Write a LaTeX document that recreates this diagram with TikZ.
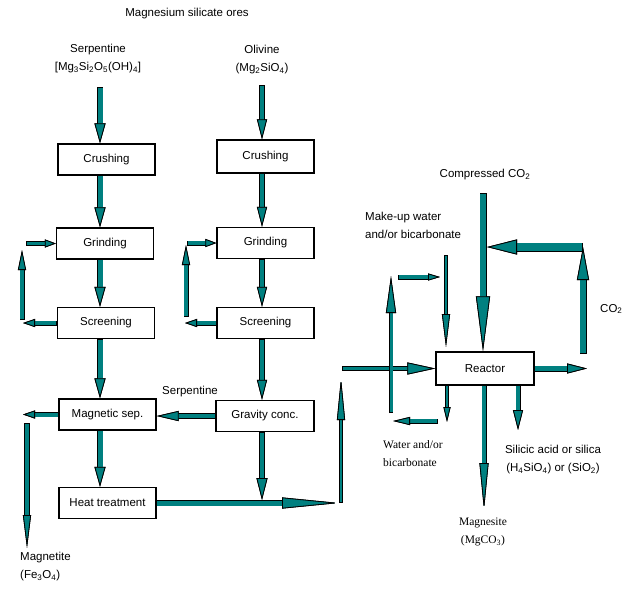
\documentclass[tikz,border=0pt]{standalone}
\usepackage{fontspec}
\setmainfont{Liberation Sans}
\newfontfamily\serifx{Liberation Serif}
\usetikzlibrary{arrows.meta}
\definecolor{tl}{RGB}{0,128,128}
\newcommand\lbl{\fontsize{11.5}{18}\selectfont}
\tikzset{
  box/.style={draw, line width=1.3pt, minimum width=97pt, minimum height=31pt, inner sep=0pt, font=\lbl},
  lab/.style={inner sep=0pt, font=\lbl, align=center},
  fl/.style n args={4}{draw=tl, line width=#1, shorten <=0.8pt,
    -{Triangle[length=#3,width=#4,fill=tl,color=black,line width'=0.8pt]},
    preaction={draw=black, line width=#2, shorten <=0pt}}
}
\begin{document}
\begin{tikzpicture}[x=1pt,y=-1pt]
\useasboundingbox (0,0) rectangle (626,590);
% labels
\node[lab] (title) at (187,14) {Magnesium silicate ores};
\node[lab] (serp) at (98,59) {Serpentine\\{}[Mg\textsubscript{3}Si\textsubscript{2}O\textsubscript{5}(OH)\textsubscript{4}]};
\node[lab] (oliv) at (262,60) {Olivine\\(Mg\textsubscript{2}SiO\textsubscript{4})};
\node[lab] (serp2) at (190,392) {Serpentine};
\node[lab, align=left, anchor=north west] (magn) at (20,552) {Magnetite\\(Fe\textsubscript{3}O\textsubscript{4})};
\node[lab] (comp) at (485,175) {Compressed CO\textsubscript{2}};
\node[lab, anchor=west] (co2) at (600,309) {CO\textsubscript{2}};
\node[lab, align=left, anchor=north west] (mk) at (365,212) {Make-up water\\and/or bicarbonate};
\node[lab, align=left, anchor=north west, font=\lbl\serifx] (wat) at (383,440) {Water and/or\\bicarbonate};
\node[lab] (sil) at (553,460) {Silicic acid or silica\\(H\textsubscript{4}SiO\textsubscript{4}) or (SiO\textsubscript{2})};
\node[lab, font=\lbl\serifx] (mgs) at (483,532) {Magnesite\\(MgCO\textsubscript{3})};
% boxes
\node[box] (c1) at (106.5,159.5) {Crushing};
\node[box] (g1) at (105,243.5) {Grinding};
\node[box] (s1) at (106,323) {Screening};
\node[box] (m) at (107.5,414.5) {Magnetic sep.};
\node[box] (h) at (107.5,503) {Heat treatment};
\node[box, minimum height=33pt] (c2) at (265.5,156.5) {Crushing};
\node[box] (g2) at (265.5,243) {Grinding};
\node[box] (s2) at (265.5,323) {Screening};
\node[box, minimum width=98pt] (gc) at (265,416) {Gravity conc.};
\node[box, minimum width=98pt, minimum height=33pt] (r) at (485,368.5) {Reactor};
% coordinates
\coordinate (ax) at (100,0);
\coordinate (bx) at (262,0);
\coordinate (p1) at (100,87);
\coordinate (p2) at (262,85);
\coordinate (hj) at (262,500);
\coordinate (ll1) at (23,323);
\coordinate (ll2) at (22,320);
\coordinate (ll3) at (22,250);
\coordinate (ll4) at (26,243.5);
\coordinate (rl1) at (185,323);
\coordinate (rl2) at (186,317);
\coordinate (rl3) at (186,245);
\coordinate (rl4) at (187,243);
\coordinate (mg1) at (23,414.5);
\coordinate (mg2) at (27,423);
\coordinate (mg3) at (27,548);
\coordinate (hx) at (339,503);
\coordinate (hv1) at (341,503);
\coordinate (hv2) at (341,378);
\coordinate (fd) at (342,368.5);
\coordinate (cx) at (483,0);
\coordinate (cc) at (483,193);
\coordinate (ro) at (587,368.5);
\coordinate (u1) at (583,354);
\coordinate (u2) at (583,247);
\coordinate (u3) at (583,247);
\coordinate (u4) at (487,247);
\coordinate (mu1) at (446,255);
\coordinate (mu2) at (446,347);
\coordinate (sh1) at (398,277);
\coordinate (sh2) at (440,277);
\coordinate (v1) at (391,413);
\coordinate (v2) at (391,276);
\coordinate (w1) at (438,421);
\coordinate (w2) at (393,421);
\coordinate (xa) at (447,0);
\coordinate (xb) at (484,0);
\coordinate (xc) at (518,0);
\coordinate (e1) at (447,422);
\coordinate (e2) at (484,510);
\coordinate (e3) at (518,430);
% left column
\draw[fl={5}{6.6}{20}{11}] (p1) -- (c1.north -| ax);
\draw[fl={5}{6.6}{20}{11}] (c1.south -| ax) -- (g1.north -| ax);
\draw[fl={5}{6.6}{20}{11}] (g1.south -| ax) -- (s1.north -| ax);
\draw[fl={5}{6.6}{20}{11}] (s1.south -| ax) -- (m.north -| ax);
\draw[fl={5}{6.6}{20}{11}] (m.south -| ax) -- (h.north -| ax);
% right column
\draw[fl={3.6}{5.2}{20}{10}] (p2) -- (c2.north -| bx);
\draw[fl={3.8}{5.4}{20}{10}] (c2.south -| bx) -- (g2.north -| bx);
\draw[fl={3.8}{5.4}{20}{10}] (g2.south -| bx) -- (s2.north -| bx);
\draw[fl={3.8}{5.4}{20}{10}] (s2.south -| bx) -- (gc.north -| bx);
\draw[fl={4.4}{6}{22}{11}] (gc.south -| bx) -- (hj);
% loops
\draw[fl={3.4}{5}{12}{8}] (s1.west) -- (ll1);
\draw[fl={3.4}{5}{20}{8}] (ll2) -- (ll3);
\draw[fl={3.4}{5}{11}{8}] (ll4) -- (g1.west);
\draw[fl={3.4}{5}{12}{8}] (s2.west) -- (rl1);
\draw[fl={3.4}{5}{20}{8}] (rl2) -- (rl3);
\draw[fl={3.4}{5}{11}{8}] (rl4) -- (g2.west);
% serpentine and magnetite
\draw[fl={4.4}{6}{22}{10}] (gc.west) -- (gc.west -| m.east);
\draw[fl={4}{5.6}{12}{8}] (m.west) -- (mg1);
\draw[fl={4}{5.6}{33}{8}] (mg2) -- (mg3);
% heat treatment to reactor
\draw[fl={5}{6.6}{57}{11}] (h.east) -- (hx);
\draw[fl={2.8}{4.4}{42}{8}] (hv1) -- (hv2);
\draw[fl={3.8}{5.4}{28}{12}] (fd) -- (r.west);
% CO2
\draw[fl={5.4}{7}{55}{14}] (cc) -- (r.north -| cx);
\draw[fl={4.4}{6}{20}{10}] (r.east) -- (ro);
\draw[fl={5.4}{7}{33}{12}] (u1) -- (u2);
\draw[fl={7.4}{9}{30}{15}] (u3) -- (u4);
% make-up water
\draw[fl={2.6}{4.2}{33}{8}] (mu1) -- (mu2);
\draw[fl={3.4}{5}{12}{7}] (sh1) -- (sh2);
\draw[fl={3}{4.6}{37}{10}] (v1) -- (v2);
\draw[fl={3.4}{5}{17}{8}] (w1) -- (w2);
% reactor outputs
\draw[fl={1.6}{4}{15}{7}] (r.south -| xa) -- (e1);
\draw[fl={3.4}{5}{47}{9}] (r.south -| xb) -- (e2);
\draw[fl={3.4}{5}{20}{10}] (r.south -| xc) -- (e3);
\end{tikzpicture}
\end{document}
